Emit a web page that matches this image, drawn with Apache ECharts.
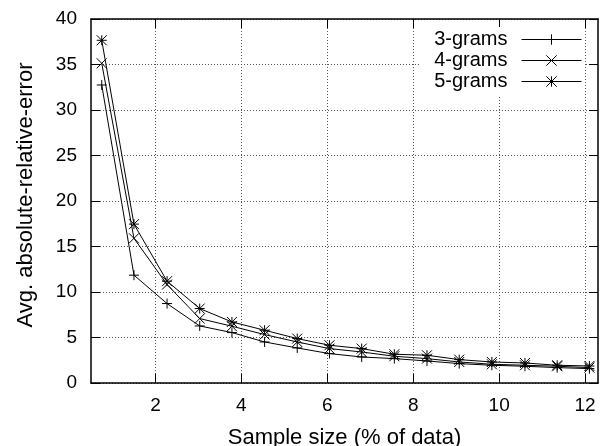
<!DOCTYPE html>
<html>
<head>
<meta charset="utf-8">
<script src="https://cdn.jsdelivr.net/npm/echarts@6/dist/echarts.min.js"></script>
<style>html,body{margin:0;padding:0;background:#fff}#c{width:605px;height:446px}</style>
</head>
<body>
<div id="c"></div>
<script>
// Sample size (% of data)
var xs = [0.75, 1.5, 2.27, 3.03, 3.78, 4.54, 5.3, 6.05, 6.8, 7.56, 8.32, 9.07, 9.83, 10.6, 11.35, 12.1];
var grams3 = [32.75, 11.85, 8.73, 6.27, 5.54, 4.51, 3.85, 3.23, 2.86, 2.68, 2.42, 2.13, 1.95, 1.84, 1.69, 1.58];
var grams4 = [35.13, 15.9, 10.82, 7.08, 6.24, 5.32, 4.51, 3.78, 3.41, 2.94, 2.68, 2.31, 2.06, 1.95, 1.84, 1.69];
var grams5 = [37.66, 17.46, 11.19, 8.18, 6.71, 5.8, 4.88, 4.15, 3.78, 3.16, 3.05, 2.57, 2.31, 2.2, 1.95, 1.87];
var xTicks = [2, 4, 6, 8, 10, 12];
var seriesNames = ['3-grams', '4-grams', '5-grams'];
var xTitle = 'Sample size (% of data)';
var yTitle = 'Avg. absolute-relative-error';

var FONT = 'Liberation Sans';
var symPlus = 'path://M0,-1L0,1M-1,0L1,0';
var symCross = 'path://M-1,-1L1,1M-1,1L1,-1';
var symStar = 'path://M0,-1L0,1M-1,0L1,0M-1,-1L1,1M-1,1L1,-1';

function pairs(ys) { return xs.map(function (x, i) { return [x, ys[i]]; }); }
function mkSeries(name, ys, sym) {
  return {
    name: name, type: 'line', data: pairs(ys), xAxisIndex: 0, yAxisIndex: 0,
    symbol: sym, symbolSize: 10, showSymbol: true,
    lineStyle: { color: '#000', width: 1 },
    itemStyle: { color: 'rgba(0,0,0,0)', borderColor: '#000', borderWidth: 1 },
    emphasis: { disabled: true }, animation: false
  };
}
var axisLineStyle = { color: '#000', width: 1.5 };
var chart = echarts.init(document.getElementById('c'), null, { renderer: 'canvas' });
chart.setOption({
  animation: false,
  textStyle: { fontFamily: FONT },
  grid: { left: 91, right: 7, top: 19, bottom: 63, containLabel: false, outerBoundsMode: 'none' },
  legend: {
    data: seriesNames, orient: 'vertical', right: 20, top: 27, align: 'right',
    itemWidth: 60, itemHeight: 13, itemGap: 0, padding: [2, 3, 4, 14],
    backgroundColor: '#fff',
    lineStyle: { width: 1, color: '#000' },
    itemStyle: { borderWidth: 1, borderColor: '#000', color: 'rgba(0,0,0,0)' },
    textStyle: { fontFamily: FONT, fontSize: 20, color: '#000', lineHeight: 21, padding: [0, 9, 0, 0] },
    selectedMode: false
  },
  xAxis: [{
    type: 'value', min: 0.5, max: 12.3, position: 'bottom',
    name: xTitle, nameLocation: 'middle', nameGap: 44,
    nameTextStyle: { fontFamily: FONT, fontSize: 22, color: '#000' },
    axisLine: { show: true, onZero: false, lineStyle: axisLineStyle },
    axisTick: { show: true, inside: true, length: 9, customValues: xTicks, lineStyle: { color: '#000', width: 1 } },
    axisLabel: { customValues: xTicks, fontFamily: FONT, fontSize: 19, color: '#000', margin: 13 },
    splitLine: { show: true, lineStyle: { color: '#555', width: 1, type: [1, 2] } }
  }, {
    type: 'value', min: 0.5, max: 12.3, position: 'top',
    axisLine: { show: true, onZero: false, lineStyle: axisLineStyle },
    axisTick: { show: true, inside: true, length: 9, customValues: xTicks, lineStyle: { color: '#000', width: 1 } },
    axisLabel: { show: false, customValues: xTicks },
    splitLine: { show: false }
  }],
  yAxis: [{
    type: 'value', min: 0, max: 40, interval: 5, position: 'left',
    name: yTitle, nameLocation: 'middle', nameGap: 54, nameRotate: 90,
    nameTextStyle: { fontFamily: FONT, fontSize: 22, color: '#000', padding: [0, 0, 0, 12] },
    axisLine: { show: true, onZero: false, lineStyle: axisLineStyle },
    axisTick: { show: true, inside: true, length: 9, lineStyle: { color: '#000', width: 1 } },
    axisLabel: { fontFamily: FONT, fontSize: 19, color: '#000', margin: 14 },
    splitLine: { show: true, lineStyle: { color: '#555', width: 1, type: [1, 2] } }
  }, {
    type: 'value', min: 0, max: 40, interval: 5, position: 'right',
    axisLine: { show: true, onZero: false, lineStyle: axisLineStyle },
    axisTick: { show: true, inside: true, length: 9, lineStyle: { color: '#000', width: 1 } },
    axisLabel: { show: false },
    splitLine: { show: false }
  }],
  series: [
    mkSeries(seriesNames[0], grams3, symPlus),
    mkSeries(seriesNames[1], grams4, symCross),
    mkSeries(seriesNames[2], grams5, symStar)
  ]
});
</script>
</body>
</html>
